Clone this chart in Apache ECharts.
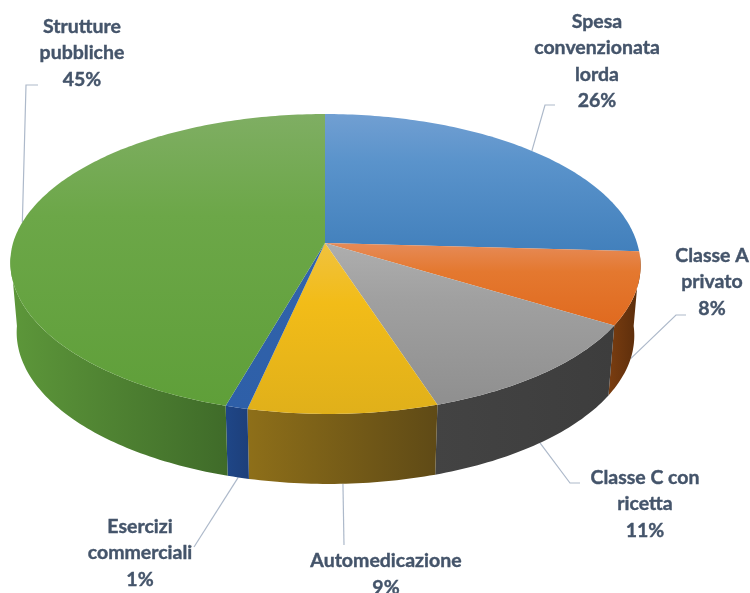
<!DOCTYPE html>
<html>
<head>
<meta charset="utf-8">
<style>
  html, body { margin: 0; padding: 0; background: #fff; }
  #chart { width: 750px; height: 593px; }
</style>
<script src="https://cdn.jsdelivr.net/npm/echarts@6/dist/echarts.min.js"></script>
</head>
<body>
<div id="chart"></div>
<script>
// slices run clockwise from 12 o'clock
var names = ["Spesa\nconvenzionata\nlorda", "Classe A\nprivato", "Classe C con\nricetta", "Automedicazione", "Esercizi\ncommerciali", "Strutture\npubbliche"];
var values = [25.9, 7.8, 11.4, 8.5, 1.0, 45.4];

var topLight = ["#719fd2", "#e68b58", "#aeaeae", "#f0c23f", "#3264ad", "#7fae63"];
var topMid = ["#5a93cb", "#e4782f", "#a0a0a0", "#f2bc18", "#3062aa", "#6ca748"];
var topDark = ["#4280bc", "#e06a1f", "#8f8f8f", "#e0b01a", "#2e5fa8", "#5f9f39"];
var wallLeft = ["#2f5f8f", "#7a3d10", "#434343", "#8e6f19", "#1f4687", "#5d973a"];
var wallRight = ["#2a557f", "#592c0b", "#3d3d3d", "#5f4a16", "#1d3f7a", "#3f6b29"];

// label centre and leader elbow/end, same order as names
var labelPos = [[597, 61], [712, 282], [645, 504], [386, 574], [140, 553], [82, 53]];
var leaderPath = [
  [[545, 105], [555, 105]],
  [[676, 315], [686, 315]],
  [[570, 483], [580, 483]],
  [[344, 545]],
  [[194, 547]],
  [[26, 85], [38, 85]]
];
var leaderOnWall = [false, true, true, true, true, false];

// projection of the disc, front edge leans slightly right
var cx = 325, apexY = 243, rimX = 312, rimY = 147, persp = 0.14, depth = 70, baseScale = 0.98, lean = 3.5;

var total = values.reduce(function (a, b) { return a + b; }, 0);
var starts = [];
values.reduce(function (sum, v, i) { starts[i] = sum; return sum + v; }, 0);

function rim(angle) {
  var X = Math.sin(angle), Y = -Math.cos(angle), d = 1 - persp * Y;
  return [cx + rimX * X / d + lean * Math.max(Y, 0), apexY + rimY * Y / d];
}
function base(angle) {
  var p = rim(angle);
  return [cx + (p[0] - cx) * baseScale, p[1] + depth];
}
function sliceAngles(i) {
  return [starts[i] / total * Math.PI * 2, (starts[i] + values[i]) / total * Math.PI * 2];
}
function arc(fn, a0, a1) {
  var pts = [], n = Math.max(2, Math.ceil((a1 - a0) * 60));
  for (var k = 0; k <= n; k++) pts.push(fn(a0 + (a1 - a0) * k / n));
  return pts;
}

function renderWall(params) {
  var i = params.dataIndex, a = sliceAngles(i);
  var a0 = Math.max(a[0], 95 * Math.PI / 180), a1 = Math.min(a[1], 265 * Math.PI / 180);
  if (a1 <= a0) return { type: "group", children: [] };
  var pts = arc(rim, a0, a1).concat(arc(base, a0, a1).reverse());
  return {
    type: "polygon",
    shape: { points: pts },
    style: { fill: new echarts.graphic.LinearGradient(0, 0, 1, 0, [
      { offset: 0, color: wallLeft[i] }, { offset: 1, color: wallRight[i] }
    ]) }
  };
}
function renderTop(params) {
  var i = params.dataIndex, a = sliceAngles(i);
  var pts = [[cx, apexY]].concat(arc(rim, a[0], a[1]));
  return {
    type: "polygon",
    shape: { points: pts },
    style: { fill: new echarts.graphic.LinearGradient(0, 0, 0, 1, [
      { offset: 0, color: topLight[i] }, { offset: 0.35, color: topMid[i] }, { offset: 1, color: topDark[i] }
    ]) }
  };
}
function renderLeader(params) {
  var i = params.dataIndex, a = sliceAngles(i), mid = (a[0] + a[1]) / 2;
  var start = leaderOnWall[i] ? base(mid) : rim(mid);
  return {
    type: "polyline",
    shape: { points: [start].concat(leaderPath[i]) },
    style: { fill: null, stroke: "#adb9ca", lineWidth: 1.2 }
  };
}
function renderLabel(params) {
  var i = params.dataIndex;
  return {
    type: "text",
    x: labelPos[i][0],
    y: labelPos[i][1],
    style: {
      text: names[i] + "\n" + Math.round(values[i] / total * 100) + "%",
      fill: "#44546a",
      stroke: "#44546a",
      lineWidth: 0.4,
      font: "bold 19.5px Lato",
      lineHeight: 26.5,
      align: "center",
      verticalAlign: "middle"
    }
  };
}

var chart = echarts.init(document.getElementById("chart"), null, { renderer: "canvas" });
chart.setOption({
  animation: false,
  backgroundColor: "#fff",
  series: [
    { type: "custom", coordinateSystem: "none", data: values, renderItem: renderLeader, z: 1, silent: true },
    { type: "custom", coordinateSystem: "none", data: values, renderItem: renderWall, z: 2, silent: true },
    { type: "custom", coordinateSystem: "none", data: values, renderItem: renderTop, z: 3, silent: true },
    { type: "custom", coordinateSystem: "none", data: values, renderItem: renderLabel, z: 4, silent: true }
  ]
});
</script>
</body>
</html>
